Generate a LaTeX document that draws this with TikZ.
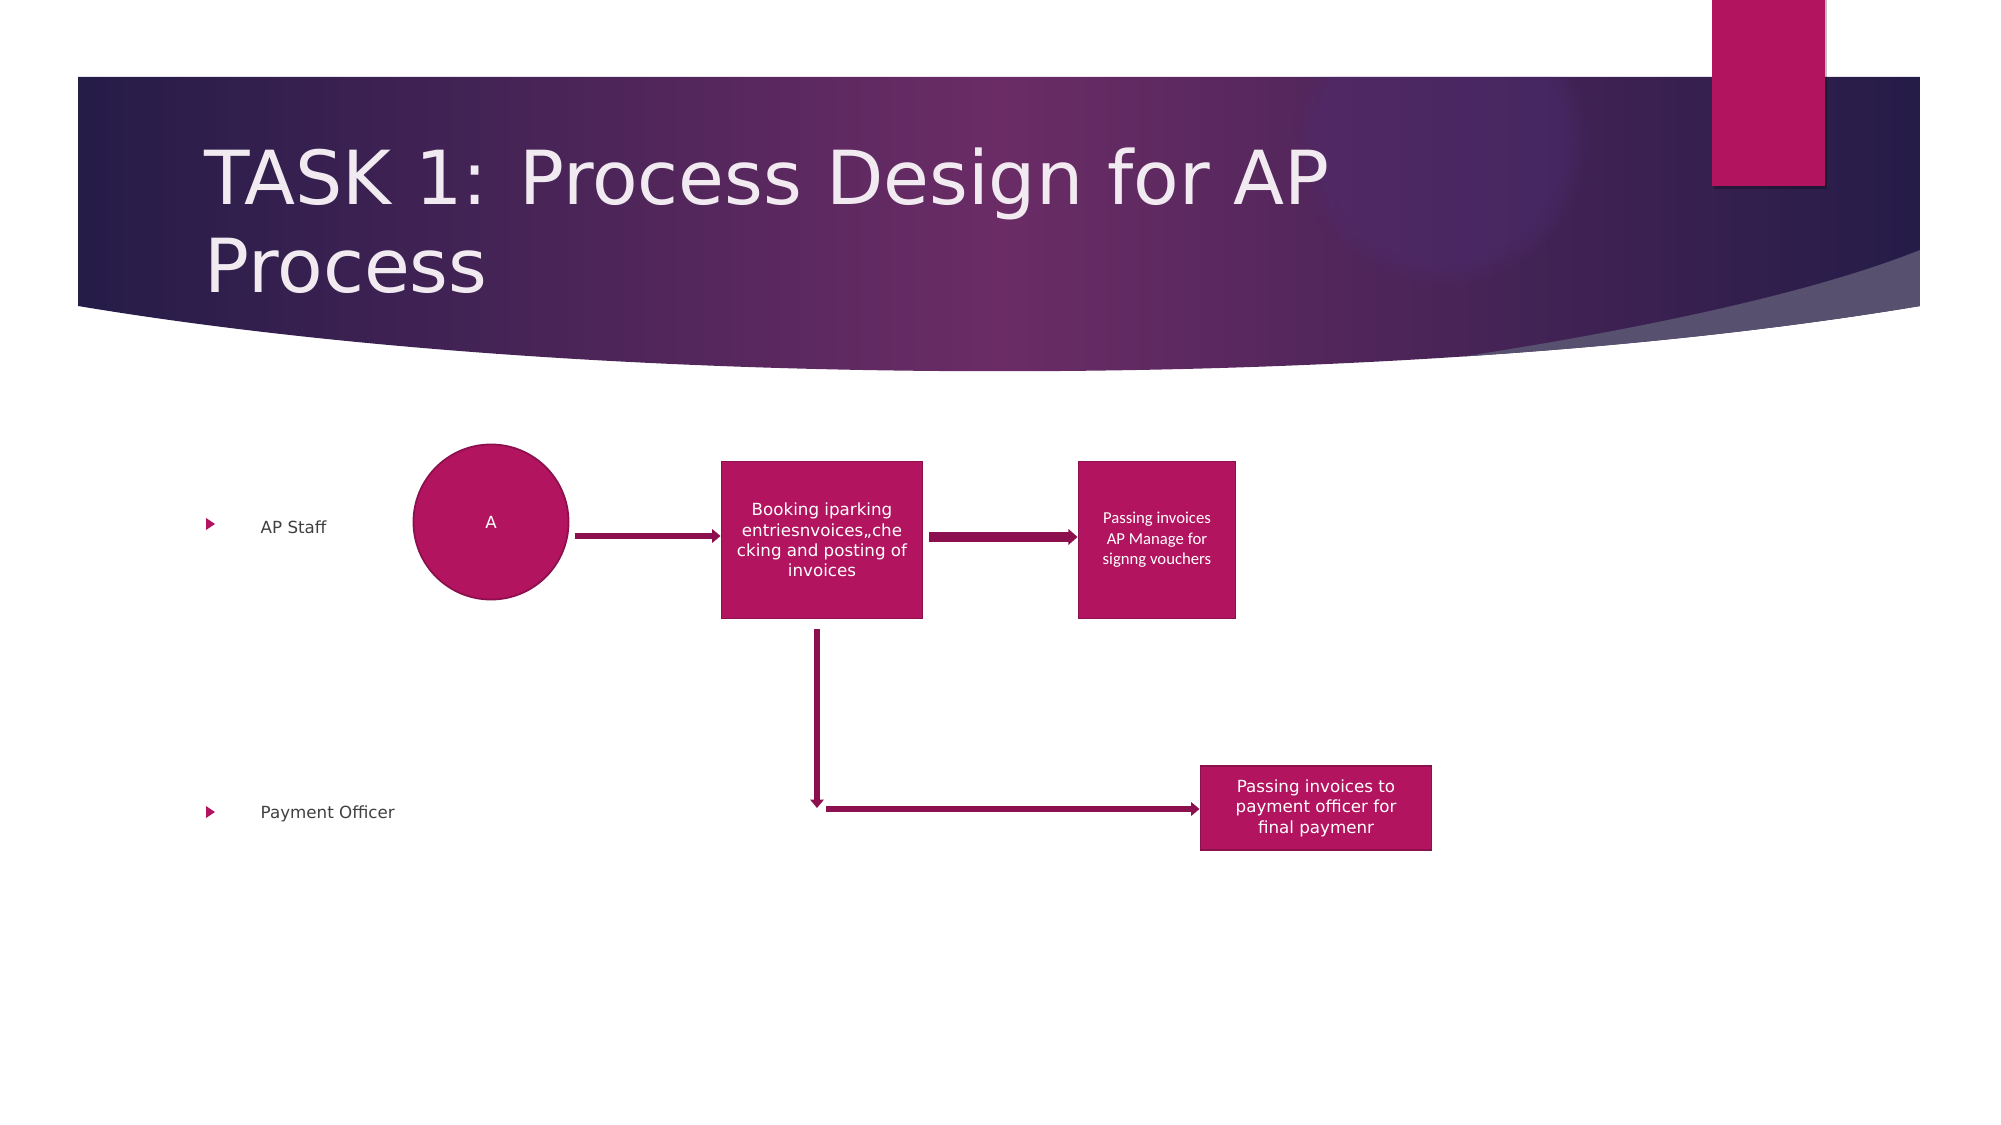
\documentclass[tikz,border=0pt]{standalone}
\usepackage{fontspec}
\setmainfont{DejaVu Sans}
\newfontfamily\boxfont{Carlito}
\usetikzlibrary{arrows.meta, positioning, fadings}

\definecolor{plum}{HTML}{B3145F}
\definecolor{plumdark}{HTML}{8C0F4E}
\definecolor{navy}{HTML}{251C48}
\definecolor{grape}{HTML}{6B2C66}
\definecolor{glow}{HTML}{4E2C70}
\definecolor{wedgegray}{HTML}{57506F}
\definecolor{titlegray}{HTML}{F1EBF1}
\definecolor{labelgray}{HTML}{404040}

\begin{document}
\begin{tikzpicture}[
    x=0.01cm, y=-0.01cm,
    box/.style={draw=plumdark, fill=plum, line width=0.5pt, text=white, align=center, inner sep=2pt, font=\fontsize{4.75}{5.8}\selectfont},
    lane/.style={anchor=west, text=labelgray, inner sep=0pt, font=\fontsize{4.75}{5.8}\selectfont},
    arr/.style={draw=plumdark, line width=1.9pt, -{Triangle[length=2.4pt, width=3.8pt]}}
  ]
  \useasboundingbox (0,0) rectangle (2001,1125);

  % header banner
  \begin{scope}
    \clip (78,77) -- (1920,77) -- (1920,306) .. controls (1400,393) and (600,393) .. (78,306) -- cycle;
    \shade[left color=navy, right color=navy, middle color=grape] (78,77) rectangle (1920,420);
    \fill[glow, opacity=0.45, path fading=circle with fuzzy edge 20 percent] (1442,140) circle (150);
    \fill[wedgegray] (1400,366) .. controls (1650,330) and (1820,290) .. (1920,250) -- (1920,420) -- (1400,420) -- cycle;
  \end{scope}
  \fill[black, opacity=0.25] (1714,0) rectangle (1827,189);
  \fill[plum] (1712,0) rectangle (1825,186);
  \node[anchor=base west, text=titlegray, align=left, inner sep=0pt, font=\fontsize{21.2}{25.3}\selectfont] (title) at (204,293) {TASK 1: Process Design for AP\\Process};

  % lanes
  \fill[plum] (206,518) -- (215,524) -- (206,530) -- cycle;
  \fill[plum] (206,806) -- (215,812) -- (206,818) -- cycle;
  \node[lane] (apstaff) at (260,527) {AP Staff};
  \node[lane] (payofficer) at (260,814) {Payment Officer};

  % flow
  \node[circle, draw=plumdark, fill=plum, line width=0.5pt, minimum size=1.55cm, text=white, font=\fontsize{4.75}{5.8}\selectfont] (start) at (491,522) {A};
  \node[box, minimum width=2.01cm, minimum height=1.57cm] (book) at (822,540) {Booking iparking\\entriesnvoices,,che\\cking and posting of\\invoices};
  \node[box, right=1.54cm of book, minimum width=1.57cm, minimum height=1.57cm, font=\boxfont\fontsize{4.75}{5.8}\selectfont] (pass) {Passing invoices\\AP Manage for\\signng vouchers};
  \node[box, minimum width=2.31cm, minimum height=0.84cm] (final) at (1316,808) {Passing invoices to\\payment officer for\\final paymenr};
  \coordinate (turn) at (817,808);

  \draw[arr] ([shift={(6,14)}]start.east) -- ([shift={(0,-4)}]book.west);
  \draw[arr, line width=2.6pt, -{Triangle[length=2.6pt, width=4.4pt]}] ([shift={(6,-3)}]book.east) -- ([shift={(0,-3)}]pass.west);
  \draw[arr] ([shift={(-5,10)}]book.south) -- (turn);
  \draw[arr] ([shift={(9,1)}]turn) -- ([shift={(0,1)}]final.west);
\end{tikzpicture}
\end{document}
